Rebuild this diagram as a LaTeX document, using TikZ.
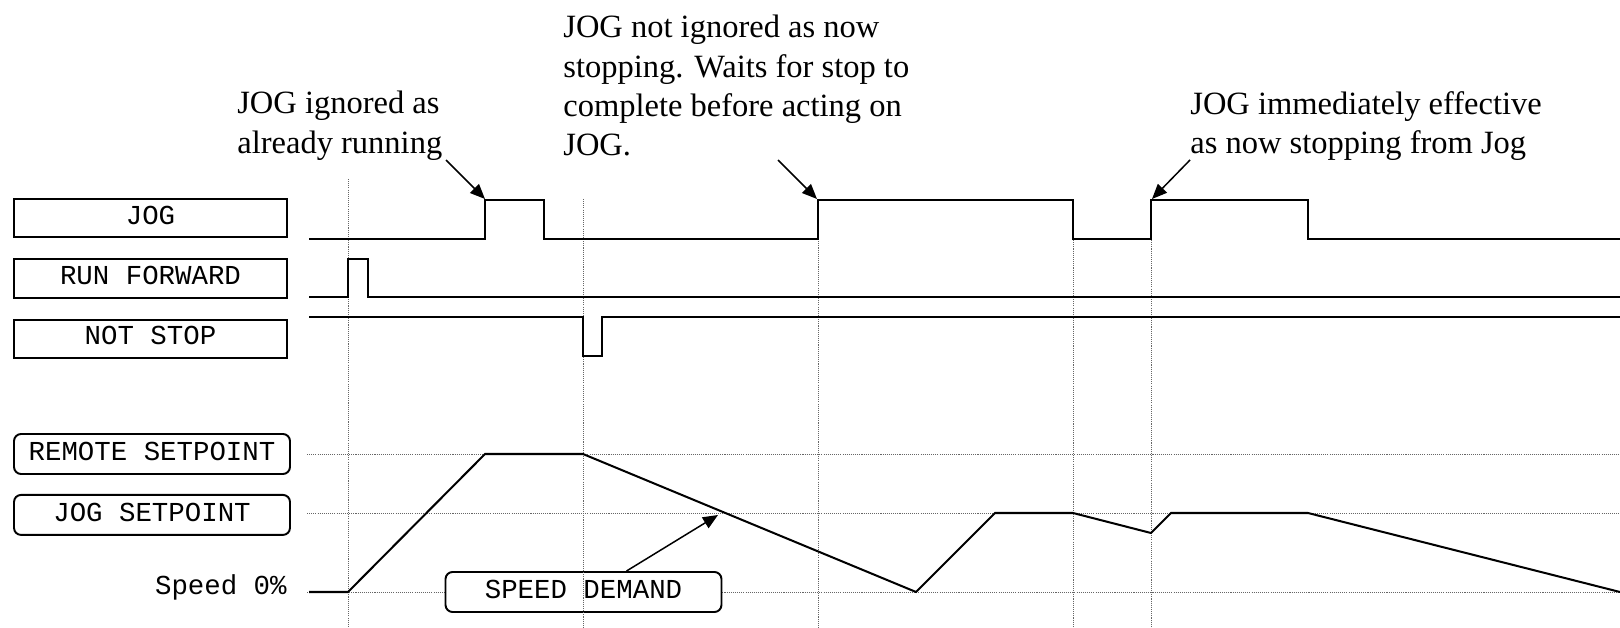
\documentclass[tikz,border=0pt]{standalone}
\usepackage{fontspec}
\setmainfont{Liberation Serif}
\setmonofont{Liberation Mono}
\usetikzlibrary{arrows.meta, positioning}
\tikzstyle{sigbox}  = [rectangle, draw=black, line width=1.1pt, minimum width=5.46cm, minimum height=0.77cm,
                       inner sep=0pt, text centered, text height=7pt, text depth=0pt,
                       font=\fontsize{15.6}{18}\ttfamily]
\tikzstyle{refbox}  = [sigbox, rounded corners=0.14cm, minimum width=5.52cm, minimum height=0.8cm, fill=white]
\tikzstyle{note}    = [align=left, anchor=north west, inner sep=0pt, font=\fontsize{18.5}{22.4}\selectfont]
\tikzstyle{trace}   = [line width=1.15pt, line join=miter]
\tikzstyle{guide}   = [black!60, line width=0.5pt, dash pattern=on 0.6pt off 0.6pt]
\tikzstyle{arrow}   = [-{Triangle[length=0.3cm, width=0.25cm]}, line width=0.85pt]

\begin{document}
\begin{tikzpicture}[x=0.02cm, y=-0.02cm, node distance=0.4cm]
    \useasboundingbox (0,0) rectangle (1620,628);

    % speed levels
    \draw[guide] (307,454) -- (1620,454);
    \draw[guide] (307,513) -- (1620,513);
    \draw[guide] (307,592) -- (1620,592);

    \node (jog) [sigbox] at (150.5,218) {JOG};
    \node (run) [sigbox, below=of jog] {RUN FORWARD};
    \node (nstop) [sigbox, below=of run] {NOT STOP};
    \node (remote) [refbox] at (152,454) {REMOTE SETPOINT};
    \node (jogsp) [refbox, below=0.38cm of remote] {JOG SETPOINT};
    \node (zero) [anchor=base east, inner sep=0pt, font=\fontsize{15.6}{18}\ttfamily] at (287,594) {Speed 0\%};
    \node (dem) [refbox] at (583.5,592) {SPEED DEMAND};

    \node (ign) [note] at (237,91) {JOG ignored as\\already running};
    \node (wait) [note] at (563,15) {JOG not ignored as now\\stopping. Waits for stop to\\complete before acting on\\JOG.};
    \node (eff) [note] at (1190,91) {JOG immediately effective\\as now stopping from Jog};

    % events
    \draw[guide] (348,179) -- (348,628);
    \draw[guide] (583,199) -- (583,628);
    \draw[guide] (818,199) -- (818,628);
    \draw[guide] (1073,200) -- (1073,628);
    \draw[guide] (1151,200) -- (1151,628);

    \draw[trace] (309,239) -- (485,239) -- (485,200) -- (544,200) -- (544,239) -- (818,239) -- (818,200)
        -- (1073,200) -- (1073,239) -- (1151,239) -- (1151,200) -- (1308,200) -- (1308,239) -- (1620,239);
    \draw[trace] (309,297) -- (348,297) -- (348,259) -- (368,259) -- (368,297) -- (1620,297);
    \draw[trace] (309,317) -- (583,317) -- (583,356) -- (602,356) -- (602,317) -- (1620,317);
    \draw[trace] (309,592) -- (348,592) -- (485,454) -- (583,454) -- (916,592) -- (995,513) -- (1073,513)
        -- (1151,533) -- (1171,513) -- (1308,513) -- (1620,592);

    \coordinate (ignfrom) at (446,160);
    \coordinate (ignto) at (485,199);
    \coordinate (waitfrom) at (778,160);
    \coordinate (waitto) at (817,199);
    \coordinate (efffrom) at (1190,160);
    \coordinate (effto) at (1152,199);
    \coordinate (demto) at (718,515);

    \draw[arrow] (ignfrom) -- (ignto);
    \draw[arrow] (waitfrom) -- (waitto);
    \draw[arrow] (efffrom) -- (effto);
    \draw[arrow] (dem.26) -- (demto);
\end{tikzpicture}
\end{document}
